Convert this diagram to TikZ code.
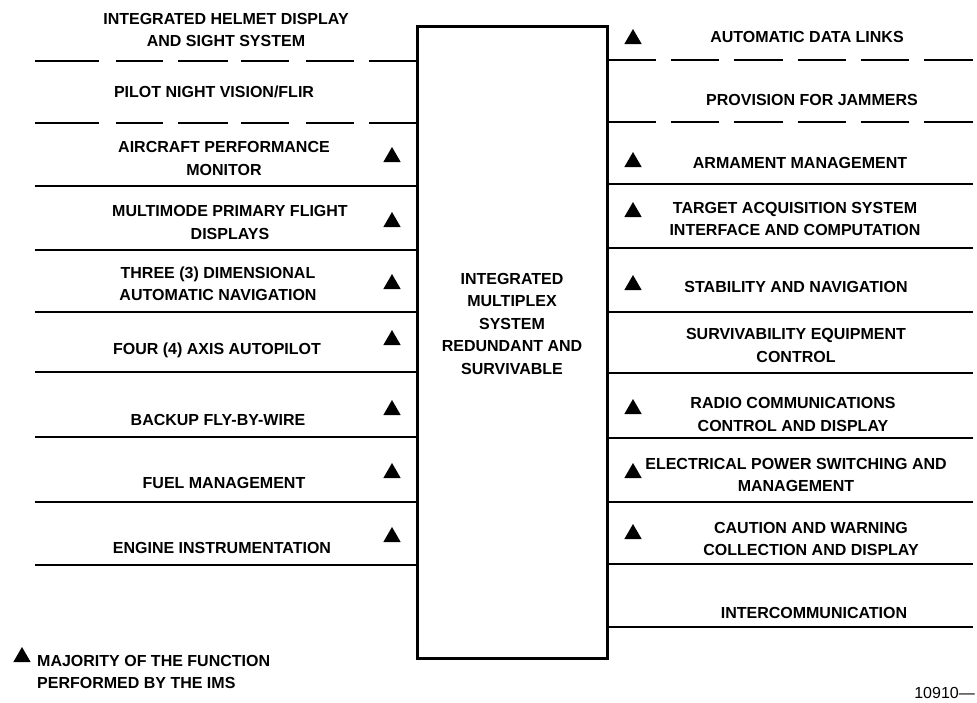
\documentclass[tikz,border=0pt]{standalone}
\usepackage{fontspec}
\setsansfont{Liberation Sans}
\usetikzlibrary{shapes.geometric}
\begin{document}
\begin{tikzpicture}[x=1pt,y=-1pt,
  lbl/.style={font=\sffamily\bfseries\fontsize{16}{22.5}\selectfont, align=center, inner sep=0pt},
  tri/.style={regular polygon, regular polygon sides=3, fill=black, draw=none, minimum size=20pt, inner sep=0pt},
  wire/.style={line width=2.1pt},
  dwireL/.style={line width=2.1pt, dash pattern=on 47pt off 15pt on 48pt off 17pt on 48pt off 13pt on 50pt off 15pt on 47pt off 17pt on 70pt off 1pt},
  dwireR/.style={line width=2.1pt, dash pattern=on 47pt off 15pt on 48pt off 15pt on 49pt off 15pt on 48pt off 15pt on 48pt off 15pt on 60pt off 1pt},
  imsbox/.style={draw, line width=3pt, minimum width=190pt, minimum height=632pt, inner sep=0pt}
]
\useasboundingbox (0,0) rectangle (977,702);
\node[imsbox] (ims) at (512,342) {};
\node[lbl] (imstxt) at (512,323.5) {INTEGRATED\\MULTIPLEX\\SYSTEM\\REDUNDANT AND\\SURVIVABLE};

% left line ends
\coordinate (l1) at (35,61);
\coordinate (l2) at (35,123);
\coordinate (l3) at (35,186);
\coordinate (l4) at (35,250);
\coordinate (l5) at (35,312);
\coordinate (l6) at (35,372);
\coordinate (l7) at (35,437);
\coordinate (l8) at (35,502);
\coordinate (l9) at (35,565);
\draw[dwireL] (ims.west |- l1) -- (l1);
\draw[dwireL] (ims.west |- l2) -- (l2);
\foreach \c in {l3,l4,l5,l6,l7,l8,l9} {\draw[wire] (ims.west |- \c) -- (\c);}

% right line ends
\coordinate (r1) at (973,60);
\coordinate (r2) at (973,122);
\coordinate (r3) at (973,184);
\coordinate (r4) at (973,248);
\coordinate (r5) at (973,312);
\coordinate (r6) at (973,373);
\coordinate (r7) at (973,438);
\coordinate (r8) at (973,502);
\coordinate (r9) at (973,564);
\coordinate (r10) at (973,627);
\draw[dwireR] (ims.east |- r1) -- (r1);
\draw[dwireR] (ims.east |- r2) -- (r2);
\foreach \c in {r3,r4,r5,r6,r7,r8,r9,r10} {\draw[wire] (ims.east |- \c) -- (\c);}

% left labels
\node[lbl] (ihd) at (226,30) {INTEGRATED HELMET DISPLAY\\AND SIGHT SYSTEM};
\node[lbl] (pnv) at (214,92) {PILOT NIGHT VISION/FLIR};
\node[lbl] (apm) at (224,158.5) {AIRCRAFT PERFORMANCE\\MONITOR};
\node[lbl] (mpfd) at (230,222.5) {MULTIMODE PRIMARY FLIGHT\\DISPLAYS};
\node[lbl] (tdan) at (218,284) {THREE (3) DIMENSIONAL\\AUTOMATIC NAVIGATION};
\node[lbl] (faa) at (217,350) {FOUR (4) AXIS AUTOPILOT};
\node[lbl] (bfw) at (218,420) {BACKUP FLY-BY-WIRE};
\node[lbl] (fuel) at (224,483) {FUEL MANAGEMENT};
\node[lbl] (eng) at (222,548) {ENGINE INSTRUMENTATION};

% right labels
\node[lbl] (adl) at (807,37) {AUTOMATIC DATA LINKS};
\node[lbl] (pfj) at (812,100) {PROVISION FOR JAMMERS};
\node[lbl] (arm) at (800,163) {ARMAMENT MANAGEMENT};
\node[lbl] (tas) at (795,219) {TARGET ACQUISITION SYSTEM\\INTERFACE AND COMPUTATION};
\node[lbl] (stab) at (796,287) {STABILITY AND NAVIGATION};
\node[lbl] (surv) at (796,345.5) {SURVIVABILITY EQUIPMENT\\CONTROL};
\node[lbl] (radio) at (793,414.5) {RADIO COMMUNICATIONS\\CONTROL AND DISPLAY};
\node[lbl] (elec) at (796,475) {ELECTRICAL POWER SWITCHING AND\\MANAGEMENT};
\node[lbl] (caut) at (811,539) {CAUTION AND WARNING\\COLLECTION AND DISPLAY};
\node[lbl] (icom) at (814,613) {INTERCOMMUNICATION};

% left triangles
\node[tri] (tl1) at (392,157) {};
\node[tri] (tl2) at (392,222) {};
\node[tri] (tl3) at (392,284) {};
\node[tri] (tl4) at (392,340) {};
\node[tri] (tl5) at (392,410) {};
\node[tri] (tl6) at (392,473) {};
\node[tri] (tl7) at (392,537) {};

% right triangles
\node[tri] (tr1) at (633,39) {};
\node[tri] (tr2) at (633,162) {};
\node[tri] (tr3) at (633,212) {};
\node[tri] (tr4) at (633,285) {};
\node[tri] (tr5) at (633,409) {};
\node[tri] (tr6) at (633,473) {};
\node[tri] (tr7) at (633,534) {};

% legend
\node[tri] (legtri) at (22,657) {};
\node[lbl, anchor=west, align=left] (legtxt) at (37,672) {MAJORITY OF THE FUNCTION\\PERFORMED BY THE IMS};
\node[font=\sffamily\fontsize{16}{18}\selectfont, anchor=east, inner sep=0pt] (fig) at (975,693) {10910—};
\end{tikzpicture}
\end{document}
